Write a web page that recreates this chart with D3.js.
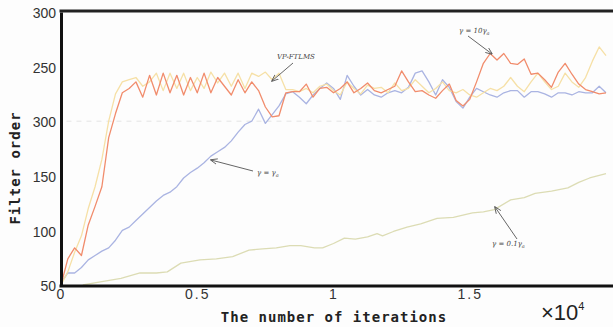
<!DOCTYPE html>
<html>
<head>
<meta charset="utf-8">
<script src="https://cdn.jsdelivr.net/npm/d3@7"></script>
<style>
  body { margin: 0; background: #fff; }
  .tick text { font-family: "Liberation Sans", Arial, sans-serif; font-size: 14px; fill: #333; }
  .ann { font-family: "DejaVu Serif", serif; font-style: italic; font-size: 7px; fill: #444; }
</style>
</head>
<body>
<div class="my-graph"></div>
<script>
// iterations (x 10^4), shared by the three fast series
const iters = d3.range(0, 81).map(i => +(i * 0.025).toFixed(3))

const order10 = [50, 74, 84, 77, 105, 122, 140, 185, 207, 226,
  230, 236, 222, 242, 224, 244, 226, 242, 224, 240,
  226, 244, 226, 240, 232, 224, 238, 226, 236, 228,
  213, 204, 205, 226, 227, 227, 234, 222, 230, 231,
  226, 230, 236, 226, 230, 235, 228, 226, 229, 232,
  246, 236, 227, 228, 224, 221, 228, 234, 219, 214,
  220, 236, 253, 262, 256, 262, 253, 252, 257, 243,
  244, 238, 231, 245, 253, 243, 234, 229, 227, 225, 226]

const orderVP = [50, 62, 80, 95, 120, 140, 165, 200, 225, 236,
  238, 240, 232, 236, 244, 228, 244, 230, 244, 228,
  240, 230, 245, 235, 244, 232, 244, 230, 244, 241,
  245, 238, 244, 229, 229, 227, 230, 226, 232, 234,
  228, 224, 236, 230, 225, 233, 230, 231, 226, 235,
  228, 230, 238, 232, 226, 230, 236, 228, 226, 229,
  224, 222, 226, 230, 228, 232, 240, 232, 227, 236,
  244, 236, 229, 232, 244, 236, 231, 240, 255, 268, 260]

const order1 = [52, 61, 61, 66, 73, 77, 81, 84, 91, 100,
  103, 109, 115, 121, 127, 132, 135, 140, 148, 153,
  157, 162, 168, 172, 176, 182, 190, 197, 200, 211,
  198, 206, 214, 225, 227, 222, 216, 224, 230, 235,
  230, 220, 242, 232, 224, 229, 224, 222, 226, 228,
  226, 231, 244, 246, 236, 224, 238, 231, 218, 212,
  222, 230, 227, 224, 222, 226, 228, 228, 222, 227,
  227, 225, 222, 226, 226, 224, 227, 226, 226, 232, 226]

// slow series has its own sampling
const itersSlow = [0.08, 0.15, 0.22, 0.29, 0.35, 0.39, 0.44, 0.51, 0.57, 0.63,
  0.69, 0.74, 0.79, 0.84, 0.88, 0.93, 0.96, 1.0, 1.04, 1.08,
  1.125, 1.16, 1.18, 1.22, 1.27, 1.32, 1.38, 1.44, 1.51, 1.55,
  1.59, 1.65, 1.70, 1.74, 1.80, 1.86, 1.90, 1.94, 2.0]
const order01 = [50, 53, 56, 61, 61, 62, 70, 73, 74, 76,
  82, 83, 84, 86, 86, 84, 84, 88, 93, 92,
  94, 97, 95, 99, 103, 106, 111, 112, 116, 117,
  119, 128, 130, 134, 136, 139, 144, 148, 152]

const yTicks = [50, 100, 150, 200, 250, 300]
const yTickLabels = ['50', '100', '150', '300', '250', '300']
const xTicks = [0, 0.5, 1, 1.5]
const xTickLabels = ['0', '0.5', '1', '1.5']

const width = 613
const height = 327

const x = d3.scaleLinear().domain([0, 2]).range([61, 606])
const y = d3.scaleLinear().domain([50, 300]).range([285, 12])

const svg = d3.select('.my-graph')
  .append('svg')
  .attr('width', width)
  .attr('height', height)

svg.append('rect').attr('width', width).attr('height', height).attr('fill', '#fdfdfd')

// dashed guide at 200
svg.append('line')
  .attr('x1', x(0.02)).attr('x2', x(1.4))
  .attr('y1', y(200)).attr('y2', y(200))
  .attr('stroke', '#e4e4e4').attr('stroke-width', 1).attr('stroke-dasharray', '5,5')

const line = d3.line().x(d => x(d[0])).y(d => y(d[1]))

const series = [
  { xs: itersSlow, ys: order01, color: '#dcdcb4' },
  { xs: iters, ys: order1, color: '#aab4e2' },
  { xs: iters, ys: orderVP, color: '#f6e0a6' },
  { xs: iters, ys: order10, color: '#f18c6c' }
]

series.forEach(s => {
  svg.append('path')
    .datum(d3.zip(s.xs, s.ys))
    .attr('fill', 'none')
    .attr('stroke', s.color)
    .attr('stroke-width', 1.3)
    .attr('stroke-linejoin', 'round')
    .attr('d', line)
})

// axes
const yAxis = svg.append('g')
  .attr('transform', `translate(${x(0)}, 0)`)
  .call(d3.axisLeft(y).tickValues(yTicks).tickFormat((d, i) => yTickLabels[i]).tickSize(0).tickPadding(5))
yAxis.select('.domain').attr('stroke', '#111').attr('stroke-width', 3)
yAxis.selectAll('.tick text').attr('dy', '0.4em')

const xAxis = svg.append('g')
  .attr('transform', `translate(0, ${y(50) + 1})`)
  .call(d3.axisBottom(x).tickValues(xTicks).tickFormat((d, i) => xTickLabels[i]).tickSize(0).tickPadding(3))
xAxis.select('.domain').remove()
xAxis.selectAll('.tick text').attr('letter-spacing', '2px')

svg.append('line')
  .attr('x1', x(0) - 1.5).attr('x2', width)
  .attr('y1', y(50) + 1).attr('y2', y(50) + 1)
  .attr('stroke', '#111').attr('stroke-width', 3)
svg.append('line')
  .attr('x1', x(0) - 1.5).attr('x2', width)
  .attr('y1', y(300) - 1).attr('y2', y(300) - 1)
  .attr('stroke', '#222').attr('stroke-width', 3)

// axis titles
svg.append('text')
  .attr('x', 334).attr('y', 322)
  .attr('text-anchor', 'middle')
  .attr('font-family', '"DejaVu Sans Mono", monospace')
  .attr('font-size', 14)
  .attr('font-weight', 'bold')
  .attr('letter-spacing', '1px')
  .attr('fill', '#222')
  .text('The number of iterations')

svg.append('text')
  .attr('transform', 'translate(20, 168) rotate(-90)')
  .attr('text-anchor', 'middle')
  .attr('font-family', '"DejaVu Sans Mono", monospace')
  .attr('font-size', 14)
  .attr('font-weight', 'bold')
  .attr('letter-spacing', '1px')
  .attr('fill', '#222')
  .text('Filter order')

const mult = svg.append('text')
  .attr('x', 541).attr('y', 320)
  .attr('font-family', '"Liberation Sans", Arial, sans-serif')
  .attr('font-size', 22)
  .attr('fill', '#222')
mult.append('tspan').text('×10')
mult.append('tspan').attr('font-size', 11).attr('dy', -10).text('4')

// annotations with arrows
svg.append('defs').append('marker')
  .attr('id', 'arr').attr('viewBox', '0 0 10 10')
  .attr('refX', 9).attr('refY', 5)
  .attr('markerWidth', 7).attr('markerHeight', 7)
  .attr('orient', 'auto')
  .append('path').attr('d', 'M0,1 L10,5 L0,9').attr('fill', 'none').attr('stroke', '#555').attr('stroke-width', 1.2)

const notes = [
  { label: 'VP-FTLMS', sub: null, tx: 277, ty: 59, from: [293, 63], to: [272, 81] },
  { label: 'γ = 10γ', sub: 'a', tx: 459, ty: 33, from: [468, 36], to: [492, 54] },
  { label: 'γ = γ', sub: 'a', tx: 257, ty: 175, from: [253, 171], to: [211, 160] },
  { label: 'γ = 0.1γ', sub: 'a', tx: 492, ty: 246, from: [517, 239], to: [495, 207] }
]

notes.forEach(n => {
  svg.append('line')
    .attr('x1', n.from[0]).attr('y1', n.from[1])
    .attr('x2', n.to[0]).attr('y2', n.to[1])
    .attr('stroke', '#666').attr('stroke-width', 1)
    .attr('marker-end', 'url(#arr)')
  const t = svg.append('text').attr('class', 'ann').attr('x', n.tx).attr('y', n.ty)
  if (n.sub) {
    t.append('tspan').text(n.label)
    t.append('tspan').attr('font-size', 5).attr('dy', 1.5).text(n.sub)
  } else {
    t.attr('font-style', 'normal').attr('font-family', '"Liberation Sans", sans-serif').attr('font-size', 6).text(n.label)
  }
})
</script>
</body>
</html>
